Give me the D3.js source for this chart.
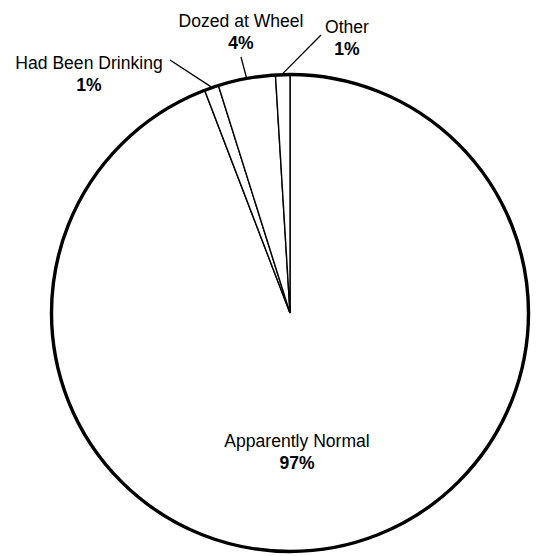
<!DOCTYPE html>
<html>
<head>
<meta charset="utf-8">
<script src="https://cdn.jsdelivr.net/npm/d3@7"></script>
<style>
  html, body { margin: 0; padding: 0; background: #fff; }
  svg text { font-family: "Liberation Sans", Arial, "DejaVu Sans", sans-serif; fill: #000; }
</style>
</head>
<body>
<svg id="chart" width="538" height="556"></svg>
<script>
// Driver condition at time of crash
const categories = ["Apparently Normal", "Had Been Drinking", "Dozed at Wheel", "Other"];
const percents = [97, 1, 4, 1];
const percentLabels = ["97%", "1%", "4%", "1%"];

const data = categories.map((c, i) => ({ name: c, value: percents[i], label: percentLabels[i] }));

const svg = d3.select("#chart");
const cx = 290, cy = 313, r = 238.5;
const g = svg.append("g").attr("transform", `translate(${cx},${cy})`);

const pie = d3.pie().value(d => d.value).sort(null).startAngle(0).endAngle(2 * Math.PI);
const arcs = pie(data);
const arc = d3.arc().innerRadius(0).outerRadius(r);

g.selectAll("path.slice")
  .data(arcs)
  .join("path")
  .attr("class", "slice")
  .attr("d", arc)
  .attr("fill", "#fff")
  .attr("stroke", "#000")
  .attr("stroke-width", 1.4)
  .attr("stroke-linejoin", "miter");

// heavy outer rim
g.append("circle").attr("r", r).attr("fill", "none").attr("stroke", "#000").attr("stroke-width", 3.4);

// label placement (baseline of name line, relative to pie centre) and leader start points
const labelPos = {
  "Apparently Normal": { x: 7, y: 134, leader: null },
  "Had Been Drinking": { x: -201, y: -244, leader: [-120, -253] },
  "Dozed at Wheel": { x: -49, y: -286, leader: [-49, -256] },
  "Other": { x: 57, y: -280, leader: [31, -278] }
};

const midPoint = a => {
  const m = (a.startAngle + a.endAngle) / 2;
  return [Math.sin(m) * (r + 1), -Math.cos(m) * (r + 1)];
};

arcs.forEach(a => {
  const p = labelPos[a.data.name];
  const lg = g.append("g").attr("transform", `translate(${p.x},${p.y}) scale(0.95,1)`);
  const t = lg.append("text")
    .attr("text-anchor", "middle")
    .style("font-size", "18.5px");
  t.append("tspan").attr("x", 0).text(a.data.name);
  t.append("tspan").attr("x", 0).attr("dy", 22.5).style("font-weight", "bold").text(a.data.label);
  if (p.leader) {
    const [ex, ey] = midPoint(a);
    g.append("line")
      .attr("x1", p.leader[0]).attr("y1", p.leader[1])
      .attr("x2", ex).attr("y2", ey)
      .attr("stroke", "#000").attr("stroke-width", 1.3);
  }
});
</script>
</body>
</html>
